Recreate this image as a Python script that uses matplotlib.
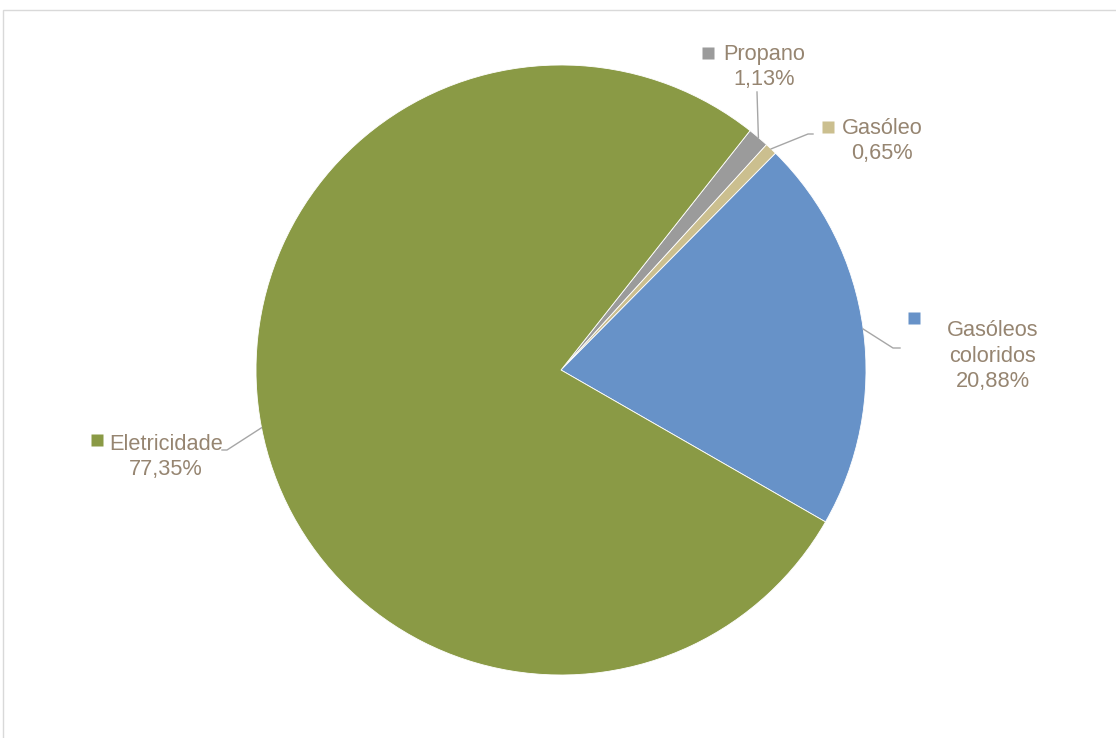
import numpy as np
import matplotlib
matplotlib.use('Agg')
import matplotlib.pyplot as plt
from matplotlib.patches import Rectangle

plt.rcParams['font.family'] = ['Liberation Sans', 'DejaVu Sans']

# Data
categories = ['Propano', 'Gasóleo', 'Gasóleos\ncoloridos', 'Eletricidade']
shares = [1.13, 0.65, 20.88, 77.35]
share_labels = ['1,13%', '0,65%', '20,88%', '77,35%']
colors = ['#9B9B9B', '#CBBF8F', '#6792C8', '#8A9A45']

W, H = 1116, 738
CX, CY, R = 561, 370, 305
text_color = '#968571'
line_color = '#A6A6A6'


def px(x, y):
    # pixel position -> data coords (pie radius = 1)
    return (x - CX) / R, (CY - y) / R


fig = plt.figure(figsize=(W / 100, H / 100), dpi=100)
ax = fig.add_axes([0, 0, 1, 1])

wedges, _ = ax.pie(shares, colors=colors, startangle=51.7, counterclock=False,
                   radius=1, center=(0, 0),
                   wedgeprops=dict(edgecolor='white', linewidth=0.6))
ax.set_xlim((0 - CX) / R, (W - CX) / R)
ax.set_ylim((CY - H) / R, CY / R)
ax.set_aspect('auto')
ax.axis('off')

# label layout (pixels): marker, text centre, leader path
layout = [
    dict(marker=(708, 53), text=(764, 67), path=[(757, 92)]),
    dict(marker=(828, 127), text=(882, 141), path=[(808, 134), (813, 134)]),
    dict(marker=(914, 318), text=(993, 356), path=[(893, 348), (900, 348)]),
    dict(marker=(97, 440), text=(166, 457), path=[(227, 450), (222, 450)]),
]

for w, cat, lab, col, lay in zip(wedges, categories, share_labels, colors, layout):
    mid = np.deg2rad((w.theta1 + w.theta2) / 2)
    xs = [np.cos(mid)] + [px(*p)[0] for p in lay['path']]
    ys = [np.sin(mid)] + [px(*p)[1] for p in lay['path']]
    ax.plot(xs, ys, color=line_color, lw=1)
    mx, my = px(*lay['marker'])
    ax.plot(mx, my, marker='s', ms=8, color=col, mec='none')
    tx, ty = px(*lay['text'])
    ax.text(tx, ty, f'{cat}\n{lab}', ha='center', va='center',
            multialignment='center', fontsize=15.7, color=text_color,
            linespacing=1.25)

# chart frame
fig.patches.append(Rectangle((3 / W, -0.1), 1.2, 1 - 10 / H + 0.1,
                             transform=fig.transFigure, fill=False,
                             edgecolor='#D9D9D9', lw=1))

fig.savefig('out.png', dpi=100)
